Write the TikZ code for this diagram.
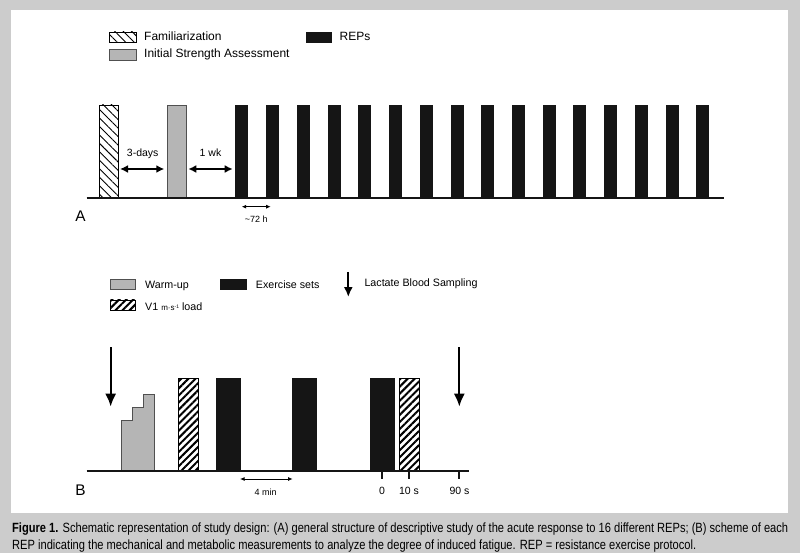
\documentclass[tikz,border=0pt]{standalone}
\usepackage{fontspec}
\setmainfont{Liberation Sans}
\newfontfamily\capfont[FakeStretch=0.83]{Liberation Sans}
\usetikzlibrary{patterns.meta,arrows.meta,calc}
\definecolor{pagegray}{HTML}{CCCCCC}
\definecolor{barblack}{HTML}{151515}
\definecolor{barfill}{HTML}{B5B5B5}
\definecolor{baredge}{HTML}{505050}
\newcommand{\fs}[1]{\fontsize{#1}{#1}\selectfont}
\begin{document}
\begin{tikzpicture}[x=1pt,y=-1pt,
  box/.style={inner sep=0pt, outer sep=0pt},
  blackbar/.style={box, draw=barblack, fill=barblack, line width=0.5pt},
  graybar/.style={box, draw=baredge, fill=barfill, line width=0.8pt},
  hatchA/.style={box, draw=black, line width=0.8pt, fill=white,
    postaction={pattern={Lines[angle=-45,distance=6pt,line width=0.9pt]}}},
  hatchB/.style={box, draw=black, line width=0.9pt, fill=white,
    postaction={pattern={Lines[angle=45,distance=5pt,line width=2pt]}}},
  axisline/.style={line width=2pt, barblack},
  bigdim/.style={line width=1.8pt, {Latex[length=8pt,width=8pt]}-{Latex[length=8pt,width=8pt]}},
  smalldim/.style={line width=1pt, {Latex[length=4.5pt,width=4pt]}-{Latex[length=4.5pt,width=4pt]}},
  downarrow/.style={line width=2.2pt, -{Latex[length=13pt,width=11pt]}},
  legtxtA/.style={anchor=base west, inner sep=0pt, font=\fs{12}},
  legtxtB/.style={anchor=base west, inner sep=0pt, font=\fs{10.7}},
  dimtxt/.style={anchor=base, inner sep=0pt, font=\fs{10.5}},
  smalltxt/.style={anchor=base, inner sep=0pt, font=\fs{9}},
  paneltxt/.style={anchor=base, inner sep=0pt, font=\fs{15.4}},
  tickline/.style={line width=2pt, barblack}
]
\useasboundingbox (0,0) rectangle (800,553);
\fill[pagegray] (0,0) rectangle (800,553);
\fill[white] (11,10) rectangle (788,513);

% ---------- Panel A legend ----------
\node[hatchA, minimum width=27pt, minimum height=10pt] (legfam) at (122.5,37) {};
\node[legtxtA] (legfamtxt) at (144,41) {Familiarization};
\node[graybar, minimum width=27pt, minimum height=11pt] (legisa) at (122.5,54.5) {};
\node[legtxtA] (legisatxt) at (144,58) {Initial Strength Assessment};
\node[blackbar, minimum width=25pt, minimum height=10pt] (legrep) at (318.5,37) {};
\node[legtxtA] (legreptxt) at (339.5,41) {REPs};

% ---------- Panel A bars ----------
\node[hatchA, anchor=south, minimum width=19.7pt, minimum height=93pt] (fam) at (108.85,198) {};
\node[graybar, anchor=south, minimum width=19.7pt, minimum height=93pt] (isa) at (176.85,198) {};
\foreach \i in {1,...,16}
  \node[blackbar, anchor=south, minimum width=12pt, minimum height=93pt] (rep\i) at ({241.7+(\i-1)*30.73},198) {};
\coordinate (aL) at (86.7,198);
\coordinate (aR) at (724,198);
\draw[axisline] (aL) -- (aR);

\coordinate (ydim) at (0,169);
\draw[bigdim, shorten <=1.3pt, shorten >=2.7pt] (fam.east |- ydim) -- (isa.west |- ydim);
\draw[bigdim, shorten <=1.6pt, shorten >=3pt] (isa.east |- ydim) -- (rep1.west |- ydim);
\node[dimtxt] (t3d) at (142.7,156.7) {3-days};
\node[dimtxt] (t1wk) at (210.5,156.7) {1 wk};
\draw[smalldim, shorten >=1.7pt] ($(rep1.south)+(0,8.7)$) -- ($(rep2.south)+(0,8.7)$);
\node[smalltxt] (t72) at (256.2,222.7) {\textasciitilde72 h};
\node[paneltxt] (pA) at (80.5,221.7) {A};

% ---------- Panel B legend ----------
\node[graybar, minimum width=25.3pt, minimum height=10.3pt] (legwu) at (122.7,284.2) {};
\node[legtxtB] (legwutxt) at (145,288.3) {Warm-up};
\node[hatchB, minimum width=25pt, minimum height=10.7pt] (legv1) at (122.7,305.3) {};
\node[legtxtB] (legv1txt) at (145,310) {V1 {\fs{8}m·s\raisebox{0.45ex}{\fs{5}-1}} load};
\node[blackbar, minimum width=26pt, minimum height=10.3pt] (legex) at (233.7,284.2) {};
\node[legtxtB] (legextxt) at (255.7,288.3) {Exercise sets};
\coordinate (laTop) at (348.3,272);
\coordinate (laBot) at (348.3,297);
\draw[line width=1.8pt, -{Latex[length=10pt,width=9pt]}] (laTop) -- (laBot);
\node[legtxtB] (legla) at (364.3,286.7) {Lactate Blood Sampling};

% ---------- Panel B diagram ----------
\fill[barfill, draw=baredge, line width=0.8pt]
  (121.7,471.3) -- (121.7,420.7) -- (132.7,420.7) -- (132.7,407.7) -- (143.3,407.7)
  -- (143.3,394) -- (154,394) -- (154,471.3) -- cycle;
\node[hatchB, anchor=south, minimum width=19.6pt, minimum height=92.6pt] (v1a) at (188.5,471.3) {};
\node[blackbar, anchor=south, minimum width=24pt, minimum height=92.6pt] (ex1) at (228,471.3) {};
\node[blackbar, anchor=south, minimum width=24pt, minimum height=92.6pt] (ex2) at (304.7,471.3) {};
\node[blackbar, anchor=south, minimum width=24pt, minimum height=92.6pt] (ex3) at (382,471.3) {};
\node[hatchB, anchor=south, minimum width=20pt, minimum height=92.6pt] (v1b) at (409,471.3) {};
\coordinate (bL) at (86.7,471.3);
\coordinate (bR) at (469.3,471.3);
\draw[axisline] (bL) -- (bR);

\coordinate (arL1) at (110.7,347.3);
\coordinate (arL2) at (110.7,406.7);
\coordinate (arR1) at (459.3,347.3);
\coordinate (arR2) at (459.3,406.7);
\draw[downarrow] (arL1) -- (arL2);
\draw[downarrow] (arR1) -- (arR2);

\coordinate (tk0) at (382,471.3);
\coordinate (tk10) at (409,471.3);
\coordinate (tk90) at (459.3,471.3);
\draw[tickline] (tk0) -- ++(0,8);
\draw[tickline] (tk10) -- ++(0,8);
\draw[tickline] (tk90) -- ++(0,8);
\node[dimtxt] (l0) at (382,494) {0};
\node[dimtxt] (l10) at (409,494) {10 s};
\node[dimtxt] (l90) at (459.5,494) {90 s};

\coordinate (ymin) at (0,479);
\draw[smalldim] (ex1.east |- ymin) -- (ex2.west |- ymin);
\node[smalltxt] (t4m) at (265.7,495.7) {4 min};
\node[paneltxt] (pB) at (80.5,495.7) {B};

% ---------- Caption ----------
\node[anchor=base west, inner sep=0pt] (cap) at (12,532.7) {\resizebox{776pt}{!}{\capfont\fontsize{11}{14}\selectfont
  \begin{tabular}[t]{@{}l@{}}
  \textbf{Figure 1.} Schematic representation of study design: (A) general structure of descriptive study of the acute response to 16 different REPs; (B) scheme of each\\
  REP indicating the mechanical and metabolic measurements to analyze the degree of induced fatigue. REP = resistance exercise protocol.
  \end{tabular}}};
\end{tikzpicture}
\end{document}
